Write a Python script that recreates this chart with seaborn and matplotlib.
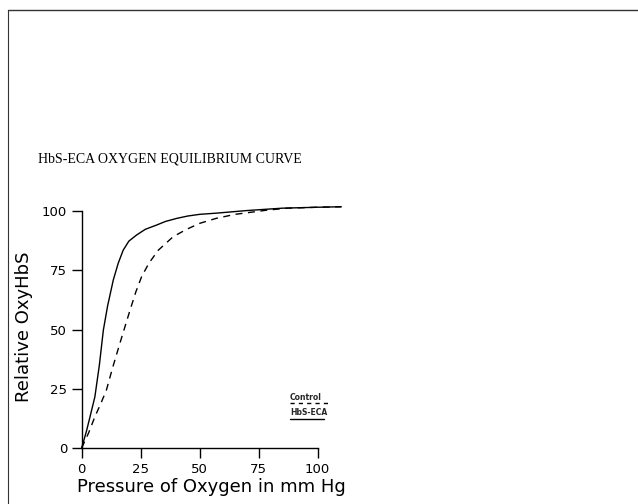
import numpy as np
import pandas as pd
import matplotlib
matplotlib.use("Agg")
import matplotlib.pyplot as plt
import seaborn as sns
from matplotlib.lines import Line2D

# Data
x_hbs = [0, 2, 3.5, 5.6, 7.5, 9.2, 11, 13.4, 15.5, 17.6, 20, 23.3, 27, 31.8, 35.5, 40.3, 45, 50, 57, 70, 85, 100, 110]
y_hbs = [0, 7, 13, 21.6, 35, 49.8, 60, 70.9, 78, 83.5, 87.3, 89.9, 92.3, 94.1, 95.6, 96.9, 97.9, 98.6, 99.1, 100.2, 101.2, 101.6, 101.8]
x_ctrl = [0, 3, 5.6, 8, 10.5, 13, 16.2, 20.5, 23, 25.4, 28.5, 32.5, 38.8, 44.5, 50, 57, 65, 78, 87, 100, 110]
y_ctrl = [0, 6.5, 13.2, 18.5, 24.5, 33.5, 44.2, 58.2, 66, 72.3, 78, 83.5, 89.2, 92.3, 94.8, 96.9, 98.6, 100.3, 101.2, 101.6, 101.8]
x_ticks = [0, 25, 50, 75, 100]
y_ticks = [0, 25, 50, 75, 100]
title = "HbS-ECA OXYGEN EQUILIBRIUM CURVE"
xlabel = "Pressure of Oxygen in mm Hg"
ylabel = "Relative OxyHbS"
series_names = ["HbS-ECA", "Control"]

df = pd.DataFrame({
    "x": x_hbs + x_ctrl,
    "y": y_hbs + y_ctrl,
    "series": [series_names[0]] * len(x_hbs) + [series_names[1]] * len(x_ctrl),
})

sns.set_style("ticks")
plt.rcParams["font.family"] = ["DejaVu Sans"]

fig = plt.figure(figsize=(6.38, 5.04), dpi=100)
ax = fig.add_axes([0.128, 0.1111, 0.4069, 0.4796])

sns.lineplot(data=df, x="x", y="y", style="series",
             style_order=series_names,
             dashes={series_names[0]: "", series_names[1]: (5, 4)},
             color="black", linewidth=1.0, ax=ax, legend=False,
             estimator=None, sort=False)
for ln in ax.lines:
    ln.set_clip_on(False)

ax.set_xlim(0, 110)
ax.set_ylim(0, 102)
ax.set_xticks(x_ticks)
ax.set_yticks(y_ticks)
ax.set_xticklabels([str(t) for t in x_ticks], fontsize=9.5)
ax.set_yticklabels([str(t) for t in y_ticks], fontsize=9.5)
ax.tick_params(axis="both", direction="out", length=7, width=1, color="black", labelcolor="black")
sns.despine(ax=ax)
ax.spines["bottom"].set_bounds(0, 100)
ax.spines["left"].set_bounds(0, 100)
for s in ("bottom", "left"):
    ax.spines[s].set_color("black")
    ax.spines[s].set_linewidth(1)

ax.set_xlabel(xlabel, fontsize=13, color="black", labelpad=2)
ax.set_ylabel(ylabel, fontsize=13, color="black", labelpad=6)

# in-plot legend (text with underline styles)
ax.text(88.3, 21.5, series_names[1], fontsize=5.5, fontweight="bold", ha="left", va="center")
ax.text(88.3, 14.8, series_names[0], fontsize=5.5, fontweight="bold", ha="left", va="center")
ax.plot([88.3, 105], [19, 19], color="black", lw=1.0, dashes=(3, 3), clip_on=False)
ax.plot([88.3, 102.5], [12.2, 12.2], color="black", lw=1.0, clip_on=False)

fig.text(38 / 638, 1 - 159 / 504, title, fontsize=10, family="Liberation Serif",
         ha="left", va="center", color="black")

# scanned page border
fig.add_artist(Line2D([8 / 638, 1], [1 - 10 / 504, 1 - 10 / 504], color="#333333", lw=1, transform=fig.transFigure))
fig.add_artist(Line2D([8 / 638, 8 / 638], [0, 1 - 10 / 504], color="#333333", lw=0.8, transform=fig.transFigure))

fig.savefig("out.png", dpi=100, facecolor="white")
